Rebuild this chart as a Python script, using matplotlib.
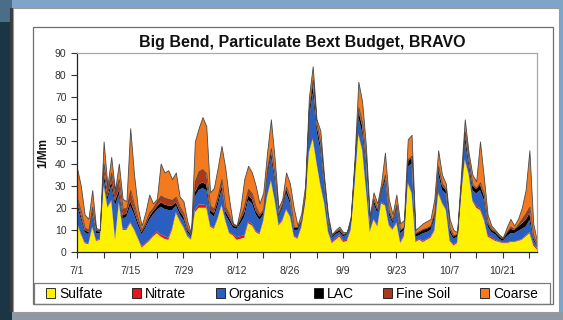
import matplotlib
matplotlib.use("Agg")
import matplotlib.pyplot as plt
from matplotlib.patches import Rectangle

plt.rcParams['font.family'] = ['Liberation Sans', 'DejaVu Sans']

# day index from 7/1
day = list(range(122))

sulfate = [13, 8, 4, 3.5, 11, 5, 5.5, 30, 20, 23,
           5.5, 22, 10, 10, 13, 10, 6, 2, 3.5, 5,
           7, 8.5, 7, 6, 5.5, 10, 17.5, 14, 11, 7,
           5.5, 18, 20, 20, 20, 11.5, 10.5, 15, 21, 14,
           8.5, 7.5, 5.5, 6, 6.5, 13, 12, 9, 8, 14,
           25, 32, 23, 12, 14, 19, 16, 7, 6, 11,
           22, 45, 51, 40, 30, 22, 9, 4, 5.5, 7,
           4.5, 5, 10, 30, 53, 46, 28, 9, 14.5, 11.5,
           22, 21, 12, 10, 13, 4, 7, 31, 26.5, 4.5,
           5.5, 4.5, 5.5, 6.5, 9.5, 26.5, 22, 19, 5, 3,
           4, 25, 41.5, 35, 23, 20, 19, 14.5, 7, 6,
           5, 4.5, 4, 4, 4.5, 4.5, 5, 5.5, 7, 8.5,
           3, 1]
nitrate = [0.5, 0.5, 0.4, 0.4, 0.5, 0.4, 0.4, 0.5, 0.5, 0.5,
           0.5, 0.5, 0.5, 0.5, 0.5, 0.5, 0.5, 0.5, 0.5, 0.5,
           0.5, 0.8, 1, 1.2, 1, 0.8, 0.5, 0.5, 0.5, 0.4,
           0.4, 1, 1.5, 1.5, 1.2, 0.5, 0.5, 0.5, 0.5, 0.5,
           0.5, 0.5, 1.2, 1.2, 1, 0.8, 0.8, 0.5, 0.5, 0.5,
           0.5, 0.5, 0.5, 0.5, 0.5, 0.5, 0.5, 0.5, 0.5, 0.5,
           0.5, 0.5, 0.5, 0.5, 0.5, 0.5, 0.5, 0.5, 0.8, 0.8,
           0.8, 0.5, 0.5, 0.5, 0.5, 0.5, 0.5, 0.5, 0.5, 0.5,
           0.5, 0.5, 0.5, 0.5, 0.5, 0.5, 0.5, 0.5, 0.5, 0.5,
           0.5, 0.5, 0.5, 0.5, 0.5, 0.5, 0.5, 0.5, 0.5, 0.5,
           0.5, 0.5, 0.5, 0.5, 0.5, 0.8, 0.8, 0.8, 0.5, 0.8,
           0.5, 0.3, 0.3, 0.3, 0.3, 0.3, 0.3, 0.3, 0.5, 0.5,
           0.8, 0.8]
organics = [7.5, 6.5, 4.6, 4.1, 5.5, 3.1, 2.6, 2.5, 3, 6.5,
            15, 3.5, 4.5, 5.5, 7.5, 6.5, 5.5, 5.5, 7, 9,
            9.5, 9.7, 12.5, 12.3, 12.5, 8.2, 3, 2.5, 3, 1.6,
            1.1, 6, 6.5, 7.5, 6.8, 5.5, 5, 5.5, 6.5, 2.5,
            5, 3, 3.8, 5.8, 8.5, 9.7, 9.2, 7.5, 6, 2.5,
            8.5, 10.5, 8.5, 3.5, 5.5, 7, 5.5, 2.5, 3.5, 1.5,
            1, 14.5, 20.5, 14.5, 15.5, 6.5, 3.5, 2, 1.7, 1.2,
            1.7, 2.5, 2.5, 5.5, 7.5, 7.5, 10.5, 2.5, 7, 5.5,
            4, 10.5, 4.5, 2.5, 6, 4, 2.5, 7, 13, 2,
            1.5, 3.5, 3, 3, 5, 8.5, 5.5, 7, 3.5, 2.5,
            2.5, 2.5, 8.5, 3.5, 4.5, 5.7, 8.2, 8.2, 4, 2.2,
            2.5, 1.2, 0.7, 2.7, 3.7, 3.7, 4.2, 4.7, 4, 5.5,
            1.7, 0.7]
lac = [1.5, 1.5, 1, 1, 1.5, 1, 0.8, 3, 1.5, 2,
       2, 2, 1.5, 1.5, 2, 1.5, 1.5, 1, 1, 1.5,
       1.5, 1.5, 2, 2, 2, 2, 1.5, 1.5, 1.5, 1,
       0.7, 2, 2.5, 2.5, 2.5, 1.5, 1.5, 2, 2, 1.5,
       1.5, 1, 0.8, 1.5, 2, 2, 2, 1.5, 1.5, 1.5,
       2, 2.5, 2, 1, 1.5, 2, 1.5, 1, 1, 1,
       1.5, 3, 4, 2.5, 2.5, 2, 1, 0.7, 0.8, 1,
       0.8, 0.5, 1, 2, 3, 3, 2, 1, 1.5, 1.5,
       1.5, 2, 1.5, 1, 1.5, 1, 1, 2.5, 2.5, 1,
       1.5, 1.5, 1.5, 1.5, 2, 2.5, 2, 1.5, 1.5, 1,
       1, 2, 3, 2, 2, 2, 2.5, 2, 1.5, 1,
       1, 1, 0.8, 1.5, 2, 1.5, 2, 2.5, 3, 3,
       1, 0.5]
fine_soil = [2, 2, 1, 1, 2, 0.5, 0.5, 4, 3, 4,
             4, 5, 3, 2.5, 5, 3, 1.5, 1, 1.5, 2,
             1.5, 2.5, 3, 3, 3, 2.5, 2.5, 2, 1.5, 1,
             0.5, 5, 6, 6, 5, 2, 2, 2.5, 3, 2,
             1.5, 0.5, 0.3, 1.5, 3, 3, 2.5, 2, 1, 1,
             1.5, 1.5, 1, 0.5, 0.5, 1, 1, 0.5, 0.3, 0.5,
             1, 1.5, 2, 1, 1, 0.5, 0.5, 0.3, 0.4, 0.5,
             0.3, 0.3, 0.5, 1, 1.5, 1.5, 1, 0.5, 0.5, 0.5,
             0.5, 1, 0.5, 0.5, 0.5, 0.5, 0.5, 1, 1, 0.5,
             0.5, 0.5, 0.5, 0.5, 1, 1, 1, 0.5, 0.5, 0.5,
             0.3, 0.5, 1, 0.5, 0.5, 0.5, 1, 1, 0.5, 0.5,
             0.3, 0.3, 0.3, 0.5, 1, 0.5, 1, 2, 3, 3,
             1, 0.5]
coarse = [13.5, 11.5, 6, 5, 7.5, 1, 0.2, 10, 2, 7,
          1, 7, 4.5, 3, 28, 13.5, 5, 2, 4.5, 8,
          2, 1, 14.5, 11.5, 13, 9.5, 11, 4.5, 5.5, 3,
          0.3, 18, 19.5, 23.5, 21.5, 6, 9.5, 12.5, 15, 17.5,
          7, 0.5, 0.4, 4, 12, 10.5, 9.5, 9.5, 5, 7.5,
          7.5, 13, 7, 2.5, 2, 6.5, 6.5, 8.5, 0.7, 3,
          4, 5.5, 6, 1.5, 5.5, 2.5, 2.5, 0.5, 0.8, 1,
          0.9, 0.2, 1.5, 3, 11.5, 9.5, 6, 2.5, 3, 2.5,
          2.5, 10, 5, 2.5, 4.5, 3, 3, 9, 9.5, 1.5,
          2, 2.5, 3, 3, 6, 7, 4, 2.5, 4, 2.5,
          0.7, 4.5, 5.5, 3.5, 4.5, 3, 18.5, 7.5, 3.5, 1.5,
          0.7, 0.7, 0.4, 2, 3.5, 1.5, 2.5, 5, 10.5, 25.5,
          5.5, 1.3]

labels = ['Sulfate', 'Nitrate', 'Organics', 'LAC', 'Fine Soil', 'Coarse']
colors = ['#fff200', '#e8141c', '#2b5fbf', '#000000', '#a8391c', '#f47a20']
tick_days = list(range(0, 120, 7))
tick_labels = ['7/1', '', '7/15', '', '7/29', '', '8/12', '', '8/26', '',
               '9/9', '', '9/23', '', '10/7', '', '10/21', '']

W, H = 563, 320


def box(x0, y0, x1, y1, **kw):
    """rectangle in pixel coords measured from the top left"""
    return Rectangle((x0 / W, 1 - y1 / H), (x1 - x0) / W, (y1 - y0) / H,
                     transform=fig.transFigure, zorder=-10, **kw)


fig = plt.figure(figsize=(W / 100, H / 100), dpi=100)
fig.patch.set_facecolor('#7ea5c9')

# frame decoration around the slide
fig.patches.append(box(0, 22, 12, 320, facecolor='#1c3545', lw=0))
fig.patches.append(box(0, 0, 12, 22, facecolor='#4a6d88', lw=0))
fig.patches.append(box(12, 312, 563, 320, facecolor='#8d9aa3', lw=0))
fig.patches.append(box(10, 8, 14, 312, facecolor='#3c3c3c', lw=0))
fig.patches.append(box(13, 8, 559, 312, facecolor='white', edgecolor='#9a9a9a', lw=0.8))
fig.patches.append(box(33, 27, 553, 304, facecolor='white', edgecolor='#6e6e6e', lw=0.9))
fig.patches.append(box(34, 283, 550, 304, facecolor='none', edgecolor='#7a7a7a', lw=0.9))

ax = fig.add_axes([77 / W, 1 - 252 / H, 460 / W, 199 / H])
ax.set_zorder(5)
polys = ax.stackplot(day, sulfate, nitrate, organics, lac, fine_soil, coarse,
                     colors=colors, labels=labels, linewidth=0)
polys[-1].set_edgecolor('#4a4a4a')
polys[-1].set_linewidth(0.6)

ax.set_xlim(0, 121)
ax.set_ylim(0, 90)
ax.set_yticks(range(0, 91, 10))
ax.set_xticks(tick_days)
ax.set_xticklabels(tick_labels)
ax.tick_params(axis='both', direction='out', length=4, width=0.8,
               color='#333333', labelsize=7.5, labelcolor='#333333')
ax.tick_params(axis='x', pad=6)
for side in ['left', 'bottom']:
    ax.spines[side].set_color('#222222')
    ax.spines[side].set_linewidth(0.9)
for side in ['top', 'right']:
    ax.spines[side].set_color('#a8a8a8')
    ax.spines[side].set_linewidth(0.9)

fig.text(302 / W, 1 - 42 / H, 'Big Bend, Particulate Bext Budget, BRAVO',
         ha='center', va='center', fontsize=11.5, fontweight='bold', color='#111111')
fig.text(43 / W, 1 - 153 / H, '1/Mm', rotation=90, ha='center', va='center',
         fontsize=8.5, fontweight='bold', color='#111111')

handles = [Rectangle((0, 0), 1, 1, facecolor=c, edgecolor='#111111', lw=0.6)
           for c in colors]
fig.legend(handles, labels, ncol=6, loc='center',
           bbox_to_anchor=(292 / W, 1 - 294 / H), frameon=False,
           fontsize=10, handlelength=0.65, handleheight=0.65,
           handletextpad=0.3, columnspacing=2.1, borderpad=0.2)

fig.savefig('out.png', dpi=100, facecolor=fig.get_facecolor())
